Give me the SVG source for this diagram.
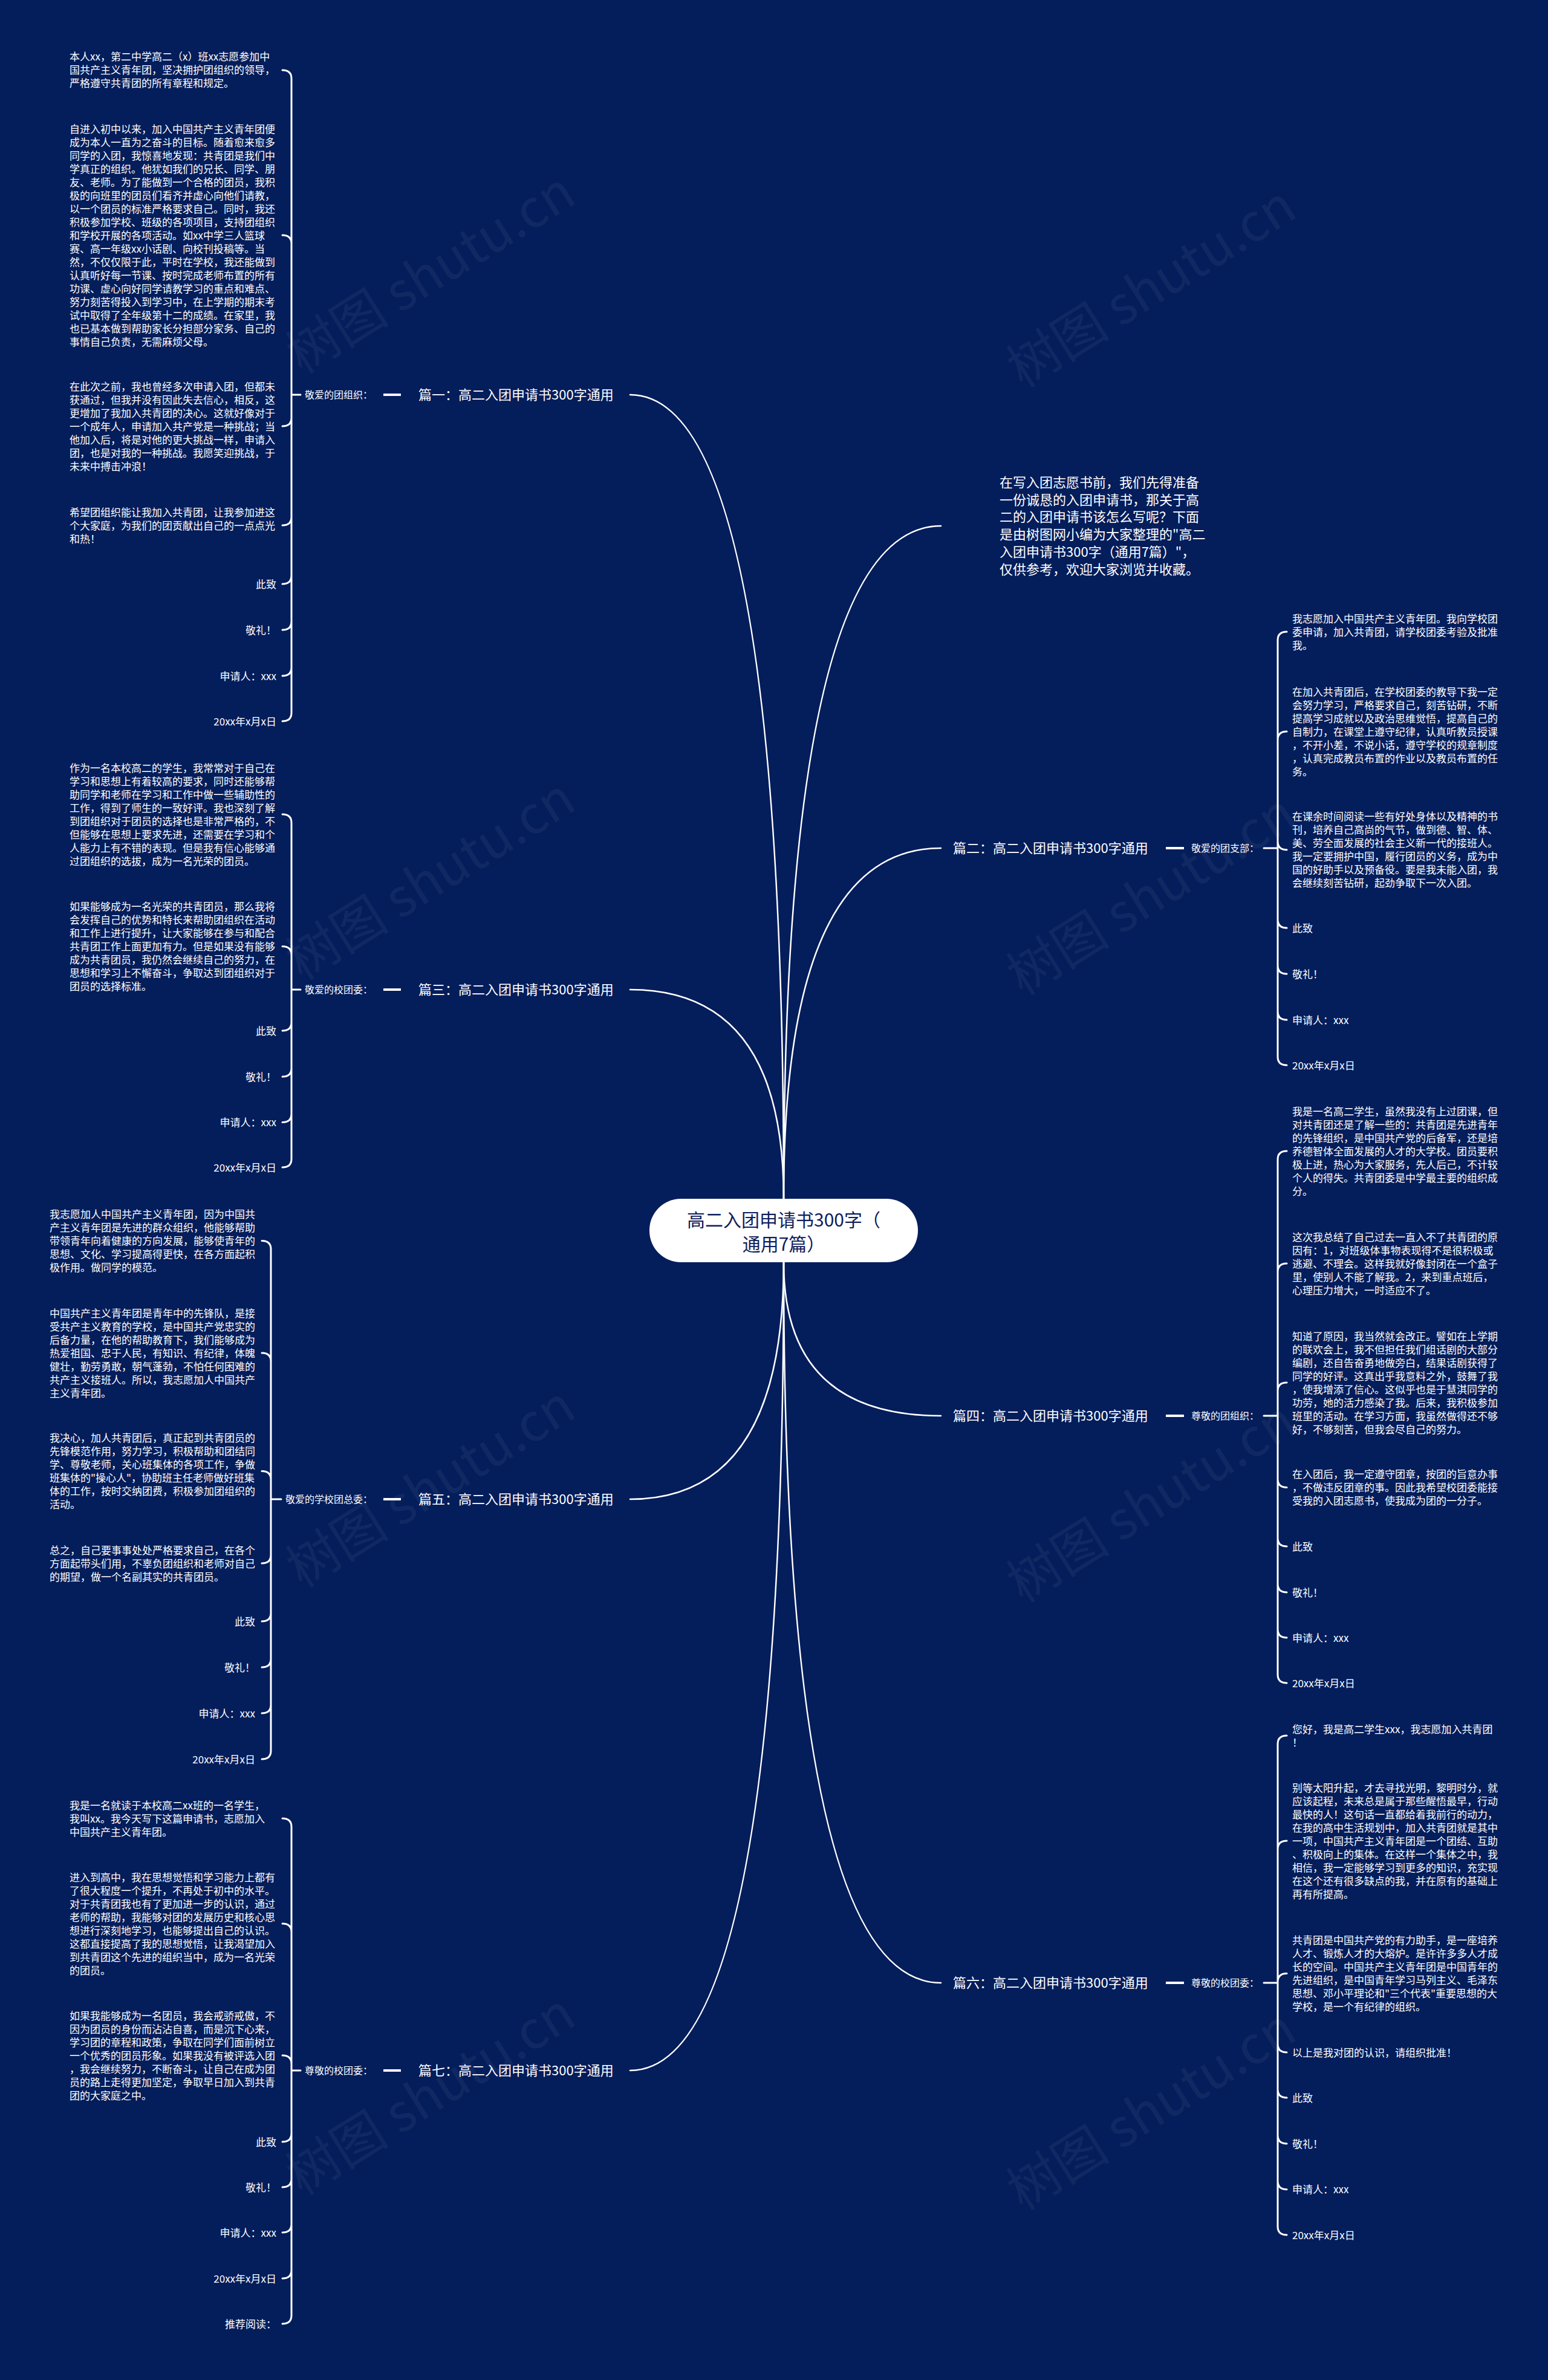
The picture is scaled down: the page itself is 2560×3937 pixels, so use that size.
<svg xmlns="http://www.w3.org/2000/svg" width="2560" height="3937" viewBox="0 0 2560 3937">
<style>
.t{font-family:"Noto Sans CJK SC","Noto Sans",sans-serif;fill:#ffffff}
.leaf{font-size:17px}
.sub{font-size:16px}
.main{font-size:22px}
.intro{font-size:22px}
.ctr{font-family:"Noto Sans CJK SC","Noto Sans",sans-serif;font-size:30px;fill:#10205a}
.ln{fill:none;stroke:#ffffff;stroke-width:2.5;stroke-linecap:round}
.br{fill:none;stroke:#ffffff;stroke-width:3;stroke-linecap:round}
.dash{fill:none;stroke:#ffffff;stroke-width:4}
.wm{font-family:"Noto Sans CJK SC","Noto Sans",sans-serif;font-size:86px;fill:#ffffff;opacity:0.05}
</style>
<rect width="2560" height="3937" fill="#041d5b"/>
<g id="watermarks">
<text class="wm" x="728" y="477" text-anchor="middle" transform="rotate(-32 728 477)">树图 shutu.cn</text>
<text class="wm" x="1920" y="500" text-anchor="middle" transform="rotate(-32 1920 500)">树图 shutu.cn</text>
<text class="wm" x="728" y="1480" text-anchor="middle" transform="rotate(-32 728 1480)">树图 shutu.cn</text>
<text class="wm" x="1920" y="1505" text-anchor="middle" transform="rotate(-32 1920 1505)">树图 shutu.cn</text>
<text class="wm" x="728" y="2485" text-anchor="middle" transform="rotate(-32 728 2485)">树图 shutu.cn</text>
<text class="wm" x="1920" y="2510" text-anchor="middle" transform="rotate(-32 1920 2510)">树图 shutu.cn</text>
<text class="wm" x="728" y="3490" text-anchor="middle" transform="rotate(-32 728 3490)">树图 shutu.cn</text>
<text class="wm" x="1920" y="3515" text-anchor="middle" transform="rotate(-32 1920 3515)">树图 shutu.cn</text>
</g>
<g id="connectors">
<path class="ln" d="M1296 1983 Q1296 653 1042 653"/>
<path class="ln" d="M1296 1983 Q1296 1637 1042 1637"/>
<path class="ln" d="M1296 2088 Q1296 2480 1042 2480"/>
<path class="ln" d="M1296 2088 Q1296 3425 1042 3425"/>
<path class="ln" d="M1296 1983 Q1296 870 1556 870"/>
<path class="ln" d="M1296 1983 Q1296 1403 1556 1403"/>
<path class="ln" d="M1296 2088 Q1296 2342 1556 2342"/>
<path class="ln" d="M1296 2088 Q1296 3280 1556 3280"/>
<path class="dash" d="M634 653H663M634 1637H663M634 2480H663M634 3425H663M1928 1403H1958M1928 2342H1958M1928 3280H1958"/>
<path class="br" d="M467 116Q482 116 482 130L482 1179Q482 1193 467 1193M467 389Q482 389 482 403M467 705Q482 705 482 691M467 869Q482 869 482 855M467 966Q482 966 482 952M467 1042Q482 1042 482 1028M467 1118Q482 1118 482 1104M482 653H497"/>
<path class="br" d="M467 1347Q482 1347 482 1361L482 1917Q482 1931 467 1931M467 1565.5Q482 1565.5 482 1579.5M467 1705Q482 1705 482 1691M467 1781Q482 1781 482 1767M467 1856.5Q482 1856.5 482 1842.5M482 1637H497"/>
<path class="br" d="M433 2052.5Q448 2052.5 448 2066.5L448 2896Q448 2910 433 2910M433 2238Q448 2238 448 2252M433 2433.5Q448 2433.5 448 2447.5M433 2586Q448 2586 448 2572M433 2682Q448 2682 448 2668M433 2758Q448 2758 448 2744M433 2834Q448 2834 448 2820M448 2480H465"/>
<path class="br" d="M467 3008Q482 3008 482 3022L482 3830Q482 3844 467 3844M467 3182Q482 3182 482 3196M467 3400Q482 3400 482 3414M467 3543Q482 3543 482 3529M467 3618Q482 3618 482 3604M467 3693Q482 3693 482 3679M467 3769Q482 3769 482 3755M482 3425H497"/>
<path class="br" d="M2128 1045Q2113 1045 2113 1059L2113 1748Q2113 1762 2128 1762M2128 1210Q2113 1210 2113 1224M2128 1405.7Q2113 1405.7 2113 1391.7M2128 1535Q2113 1535 2113 1521M2128 1611Q2113 1611 2113 1597M2128 1687Q2113 1687 2113 1673M2113 1403H2090"/>
<path class="br" d="M2128 1904Q2113 1904 2113 1918L2113 2770Q2113 2784 2128 2784M2128 2090Q2113 2090 2113 2104M2128 2287Q2113 2287 2113 2301M2128 2460.6Q2113 2460.6 2113 2446.6M2128 2558Q2113 2558 2113 2544M2128 2634Q2113 2634 2113 2620M2128 2709Q2113 2709 2113 2695M2113 2342H2090"/>
<path class="br" d="M2128 2871Q2113 2871 2113 2885L2113 3683Q2113 3697 2128 3697M2128 3045Q2113 3045 2113 3059M2128 3264.5Q2113 3264.5 2113 3278.5M2128 3395Q2113 3395 2113 3381M2128 3470Q2113 3470 2113 3456M2128 3546Q2113 3546 2113 3532M2128 3621.7Q2113 3621.7 2113 3607.7M2113 3280H2090"/>
</g>
<g id="center">
<rect x="1074" y="1983" width="444" height="105" rx="52" fill="#ffffff"/>
<text class="ctr" text-anchor="middle"><tspan x="1296" y="2029">高二入团申请书300字（</tspan><tspan x="1296" y="2069">通用7篇）</tspan></text>
</g>
<g id="intro">
<text class="t intro" x="1653" y="806"><tspan x="1653" dy="0">在写入团志愿书前，我们先得准备</tspan><tspan x="1653" dy="28.7">一份诚恳的入团申请书，那关于高</tspan><tspan x="1653" dy="28.7">二的入团申请书该怎么写呢？下面</tspan><tspan x="1653" dy="28.7">是由树图网小编为大家整理的"高二</tspan><tspan x="1653" dy="28.7">入团申请书300字（通用7篇）"，</tspan><tspan x="1653" dy="28.7">仅供参考，欢迎大家浏览并收藏。</tspan></text>
</g>
<g id="p1">
<text class="t main" x="692" y="661">篇一：高二入团申请书300字通用</text>
<text class="t sub" x="616" y="659" text-anchor="end">敬爱的团组织：</text>
<text class="t leaf" x="115" y="100.3"><tspan x="115" dy="0">本人xx，第二中学高二（x）班xx志愿参加中</tspan><tspan x="115" dy="22">国共产主义青年团，坚决拥护团组织的领导，</tspan><tspan x="115" dy="22">严格遵守共青团的所有章程和规定。</tspan></text>
<text class="t leaf" x="115" y="219.5"><tspan x="115" dy="0">自进入初中以来，加入中国共产主义青年团便</tspan><tspan x="115" dy="22">成为本人一直为之奋斗的目标。随着愈来愈多</tspan><tspan x="115" dy="22">同学的入团，我惊喜地发现：共青团是我们中</tspan><tspan x="115" dy="22">学真正的组织。他犹如我们的兄长、同学、朋</tspan><tspan x="115" dy="22">友、老师。为了能做到一个合格的团员，我积</tspan><tspan x="115" dy="22">极的向班里的团员们看齐并虚心向他们请教，</tspan><tspan x="115" dy="22">以一个团员的标准严格要求自己。同时，我还</tspan><tspan x="115" dy="22">积极参加学校、班级的各项项目，支持团组织</tspan><tspan x="115" dy="22">和学校开展的各项活动。如xx中学三人篮球</tspan><tspan x="115" dy="22">赛、高一年级xx小话剧、向校刊投稿等。当</tspan><tspan x="115" dy="22">然，不仅仅限于此，平时在学校，我还能做到</tspan><tspan x="115" dy="22">认真听好每一节课、按时完成老师布置的所有</tspan><tspan x="115" dy="22">功课、虚心向好同学请教学习的重点和难点、</tspan><tspan x="115" dy="22">努力刻苦得投入到学习中，在上学期的期末考</tspan><tspan x="115" dy="22">试中取得了全年级第十二的成绩。在家里，我</tspan><tspan x="115" dy="22">也已基本做到帮助家长分担部分家务、自己的</tspan><tspan x="115" dy="22">事情自己负责，无需麻烦父母。</tspan></text>
<text class="t leaf" x="115" y="645.5"><tspan x="115" dy="0">在此次之前，我也曾经多次申请入团，但都未</tspan><tspan x="115" dy="22">获通过，但我并没有因此失去信心，相反，这</tspan><tspan x="115" dy="22">更增加了我加入共青团的决心。这就好像对于</tspan><tspan x="115" dy="22">一个成年人，申请加入共产党是一种挑战；当</tspan><tspan x="115" dy="22">他加入后，将是对他的更大挑战一样，申请入</tspan><tspan x="115" dy="22">团，也是对我的一种挑战。我愿笑迎挑战，于</tspan><tspan x="115" dy="22">未来中搏击冲浪！</tspan></text>
<text class="t leaf" x="115" y="853.5"><tspan x="115" dy="0">希望团组织能让我加入共青团，让我参加进这</tspan><tspan x="115" dy="22">个大家庭，为我们的团贡献出自己的一点点光</tspan><tspan x="115" dy="22">和热！</tspan></text>
<text class="t leaf" x="457" y="972.5" text-anchor="end">此致</text>
<text class="t leaf" x="457" y="1048.5" text-anchor="end">敬礼！</text>
<text class="t leaf" x="457" y="1124.5" text-anchor="end">申请人：xxx</text>
<text class="t leaf" x="457" y="1199.5" text-anchor="end">20xx年x月x日</text>
</g>
<g id="p3">
<text class="t main" x="692" y="1645">篇三：高二入团申请书300字通用</text>
<text class="t sub" x="616" y="1643" text-anchor="end">敬爱的校团委：</text>
<text class="t leaf" x="115" y="1276.5"><tspan x="115" dy="0">作为一名本校高二的学生，我常常对于自己在</tspan><tspan x="115" dy="22">学习和思想上有着较高的要求，同时还能够帮</tspan><tspan x="115" dy="22">助同学和老师在学习和工作中做一些辅助性的</tspan><tspan x="115" dy="22">工作，得到了师生的一致好评。我也深刻了解</tspan><tspan x="115" dy="22">到团组织对于团员的选择也是非常严格的，不</tspan><tspan x="115" dy="22">但能够在思想上要求先进，还需要在学习和个</tspan><tspan x="115" dy="22">人能力上有不错的表现。但是我有信心能够通</tspan><tspan x="115" dy="22">过团组织的选拔，成为一名光荣的团员。</tspan></text>
<text class="t leaf" x="115" y="1506"><tspan x="115" dy="0">如果能够成为一名光荣的共青团员，那么我将</tspan><tspan x="115" dy="22">会发挥自己的优势和特长来帮助团组织在活动</tspan><tspan x="115" dy="22">和工作上进行提升，让大家能够在参与和配合</tspan><tspan x="115" dy="22">共青团工作上面更加有力。但是如果没有能够</tspan><tspan x="115" dy="22">成为共青团员，我仍然会继续自己的努力，在</tspan><tspan x="115" dy="22">思想和学习上不懈奋斗，争取达到团组织对于</tspan><tspan x="115" dy="22">团员的选择标准。</tspan></text>
<text class="t leaf" x="457" y="1711.5" text-anchor="end">此致</text>
<text class="t leaf" x="457" y="1787.5" text-anchor="end">敬礼！</text>
<text class="t leaf" x="457" y="1863" text-anchor="end">申请人：xxx</text>
<text class="t leaf" x="457" y="1937.5" text-anchor="end">20xx年x月x日</text>
</g>
<g id="p5">
<text class="t main" x="692" y="2488">篇五：高二入团申请书300字通用</text>
<text class="t sub" x="616" y="2486" text-anchor="end">敬爱的学校团总委：</text>
<text class="t leaf" x="82" y="2015"><tspan x="82" dy="0">我志愿加人中国共产主义青年团，因为中国共</tspan><tspan x="82" dy="22">产主义青年团是先进的群众组织，他能够帮助</tspan><tspan x="82" dy="22">带领青年向着健康的方向发展，能够使青年的</tspan><tspan x="82" dy="22">思想、文化、学习提高得更快，在各方面起积</tspan><tspan x="82" dy="22">极作用。做同学的模范。</tspan></text>
<text class="t leaf" x="82" y="2178.5"><tspan x="82" dy="0">中国共产主义青年团是青年中的先锋队，是接</tspan><tspan x="82" dy="22">受共产主义教育的学校，是中国共产党忠实的</tspan><tspan x="82" dy="22">后备力量，在他的帮助教育下，我们能够成为</tspan><tspan x="82" dy="22">热爱祖国、忠于人民，有知识、有纪律，体魄</tspan><tspan x="82" dy="22">健壮，勤劳勇敢，朝气蓬勃，不怕任何困难的</tspan><tspan x="82" dy="22">共产主义接班人。所以，我志愿加人中国共产</tspan><tspan x="82" dy="22">主义青年团。</tspan></text>
<text class="t leaf" x="82" y="2385"><tspan x="82" dy="0">我决心，加人共青团后，真正起到共青团员的</tspan><tspan x="82" dy="22">先锋模范作用，努力学习，积极帮助和团结同</tspan><tspan x="82" dy="22">学、尊敬老师，关心班集体的各项工作，争做</tspan><tspan x="82" dy="22">班集体的"操心人"，协助班主任老师做好班集</tspan><tspan x="82" dy="22">体的工作，按时交纳团费，积极参加团组织的</tspan><tspan x="82" dy="22">活动。</tspan></text>
<text class="t leaf" x="82" y="2570.5"><tspan x="82" dy="0">总之，自己要事事处处严格要求自己，在各个</tspan><tspan x="82" dy="22">方面起带头们用，不辜负团组织和老师对自己</tspan><tspan x="82" dy="22">的期望，做一个名副其实的共青团员。</tspan></text>
<text class="t leaf" x="422" y="2688.5" text-anchor="end">此致</text>
<text class="t leaf" x="422" y="2764.5" text-anchor="end">敬礼！</text>
<text class="t leaf" x="422" y="2840.5" text-anchor="end">申请人：xxx</text>
<text class="t leaf" x="422" y="2916.5" text-anchor="end">20xx年x月x日</text>
</g>
<g id="p7">
<text class="t main" x="692" y="3433">篇七：高二入团申请书300字通用</text>
<text class="t sub" x="616" y="3431" text-anchor="end">尊敬的校团委：</text>
<text class="t leaf" x="115" y="2992.5"><tspan x="115" dy="0">我是一名就读于本校高二xx班的一名学生，</tspan><tspan x="115" dy="22">我叫xx。我今天写下这篇申请书，志愿加入</tspan><tspan x="115" dy="22">中国共产主义青年团。</tspan></text>
<text class="t leaf" x="115" y="3111.5"><tspan x="115" dy="0">进入到高中，我在思想觉悟和学习能力上都有</tspan><tspan x="115" dy="22">了很大程度一个提升，不再处于初中的水平。</tspan><tspan x="115" dy="22">对于共青团我也有了更加进一步的认识，通过</tspan><tspan x="115" dy="22">老师的帮助，我能够对团的发展历史和核心思</tspan><tspan x="115" dy="22">想进行深刻地学习，也能够提出自己的认识。</tspan><tspan x="115" dy="22">这都直接提高了我的思想觉悟，让我渴望加入</tspan><tspan x="115" dy="22">到共青团这个先进的组织当中，成为一名光荣</tspan><tspan x="115" dy="22">的团员。</tspan></text>
<text class="t leaf" x="115" y="3340.5"><tspan x="115" dy="0">如果我能够成为一名团员，我会戒骄戒傲，不</tspan><tspan x="115" dy="22">因为团员的身份而沾沾自喜，而是沉下心来，</tspan><tspan x="115" dy="22">学习团的章程和政策，争取在同学们面前树立</tspan><tspan x="115" dy="22">一个优秀的团员形象。如果我没有被评选入团</tspan><tspan x="115" dy="22">，我会继续努力，不断奋斗，让自己在成为团</tspan><tspan x="115" dy="22">员的路上走得更加坚定，争取早日加入到共青</tspan><tspan x="115" dy="22">团的大家庭之中。</tspan></text>
<text class="t leaf" x="457" y="3549.5" text-anchor="end">此致</text>
<text class="t leaf" x="457" y="3624.5" text-anchor="end">敬礼！</text>
<text class="t leaf" x="457" y="3699.5" text-anchor="end">申请人：xxx</text>
<text class="t leaf" x="457" y="3775.5" text-anchor="end">20xx年x月x日</text>
<text class="t leaf" x="457" y="3850.5" text-anchor="end">推荐阅读：</text>
</g>
<g id="p2">
<text class="t main" x="1576" y="1411">篇二：高二入团申请书300字通用</text>
<text class="t sub" x="1970" y="1409">敬爱的团支部：</text>
<text class="t leaf" x="2137" y="1030"><tspan x="2137" dy="0">我志愿加入中国共产主义青年团。我向学校团</tspan><tspan x="2137" dy="22">委申请，加入共青团，请学校团委考验及批准</tspan><tspan x="2137" dy="22">我。</tspan></text>
<text class="t leaf" x="2137" y="1150.5"><tspan x="2137" dy="0">在加入共青团后，在学校团委的教导下我一定</tspan><tspan x="2137" dy="22">会努力学习，严格要求自己，刻苦钻研，不断</tspan><tspan x="2137" dy="22">提高学习成就以及政治思维觉悟，提高自己的</tspan><tspan x="2137" dy="22">自制力，在课堂上遵守纪律，认真听教员授课</tspan><tspan x="2137" dy="22">，不开小差，不说小话，遵守学校的规章制度</tspan><tspan x="2137" dy="22">，认真完成教员布置的作业以及教员布置的任</tspan><tspan x="2137" dy="22">务。</tspan></text>
<text class="t leaf" x="2137" y="1357"><tspan x="2137" dy="0">在课余时间阅读一些有好处身体以及精神的书</tspan><tspan x="2137" dy="22">刊，培养自己高尚的气节，做到德、智、体、</tspan><tspan x="2137" dy="22">美、劳全面发展的社会主义新一代的接班人。</tspan><tspan x="2137" dy="22">我一定要拥护中国，履行团员的义务，成为中</tspan><tspan x="2137" dy="22">国的好助手以及预备役。要是我未能入团，我</tspan><tspan x="2137" dy="22">会继续刻苦钻研，起劲争取下一次入团。</tspan></text>
<text class="t leaf" x="2137" y="1541.5">此致</text>
<text class="t leaf" x="2137" y="1617.5">敬礼！</text>
<text class="t leaf" x="2137" y="1693.5">申请人：xxx</text>
<text class="t leaf" x="2137" y="1768.5">20xx年x月x日</text>
</g>
<g id="p4">
<text class="t main" x="1576" y="2350">篇四：高二入团申请书300字通用</text>
<text class="t sub" x="1970" y="2348">尊敬的团组织：</text>
<text class="t leaf" x="2137" y="1845"><tspan x="2137" dy="0">我是一名高二学生，虽然我没有上过团课，但</tspan><tspan x="2137" dy="22">对共青团还是了解一些的：共青团是先进青年</tspan><tspan x="2137" dy="22">的先锋组织，是中国共产党的后备军，还是培</tspan><tspan x="2137" dy="22">养德智体全面发展的人才的大学校。团员要积</tspan><tspan x="2137" dy="22">极上进，热心为大家服务，先人后己，不计较</tspan><tspan x="2137" dy="22">个人的得失。共青团委是中学最主要的组织成</tspan><tspan x="2137" dy="22">分。</tspan></text>
<text class="t leaf" x="2137" y="2052.5"><tspan x="2137" dy="0">这次我总结了自己过去一直入不了共青团的原</tspan><tspan x="2137" dy="22">因有：1，对班级体事物表现得不是很积极或</tspan><tspan x="2137" dy="22">逃避、不理会。这样我就好像封闭在一个盒子</tspan><tspan x="2137" dy="22">里，使别人不能了解我。2，来到重点班后，</tspan><tspan x="2137" dy="22">心理压力增大，一时适应不了。</tspan></text>
<text class="t leaf" x="2137" y="2216.5"><tspan x="2137" dy="0">知道了原因，我当然就会改正。譬如在上学期</tspan><tspan x="2137" dy="22">的联欢会上，我不但担任我们组话剧的大部分</tspan><tspan x="2137" dy="22">编剧，还自告奋勇地做旁白，结果话剧获得了</tspan><tspan x="2137" dy="22">同学的好评。这真出乎我意料之外，鼓舞了我</tspan><tspan x="2137" dy="22">，使我增添了信心。这似乎也是于慧淇同学的</tspan><tspan x="2137" dy="22">功劳，她的活力感染了我。后来，我积极参加</tspan><tspan x="2137" dy="22">班里的活动。在学习方面，我虽然做得还不够</tspan><tspan x="2137" dy="22">好，不够刻苦，但我会尽自己的努力。</tspan></text>
<text class="t leaf" x="2137" y="2445"><tspan x="2137" dy="0">在入团后，我一定遵守团章，按团的旨意办事</tspan><tspan x="2137" dy="22">，不做违反团章的事。因此我希望校团委能接</tspan><tspan x="2137" dy="22">受我的入团志愿书，使我成为团的一分子。</tspan></text>
<text class="t leaf" x="2137" y="2564.5">此致</text>
<text class="t leaf" x="2137" y="2640.5">敬礼！</text>
<text class="t leaf" x="2137" y="2715.5">申请人：xxx</text>
<text class="t leaf" x="2137" y="2790.5">20xx年x月x日</text>
</g>
<g id="p6">
<text class="t main" x="1576" y="3288">篇六：高二入团申请书300字通用</text>
<text class="t sub" x="1970" y="3286">尊敬的校团委：</text>
<text class="t leaf" x="2137" y="2866.5"><tspan x="2137" dy="0">您好，我是高二学生xxx，我志愿加入共青团</tspan><tspan x="2137" dy="22">！</tspan></text>
<text class="t leaf" x="2137" y="2963.5"><tspan x="2137" dy="0">别等太阳升起，才去寻找光明，黎明时分，就</tspan><tspan x="2137" dy="22">应该起程，未来总是属于那些醒悟最早，行动</tspan><tspan x="2137" dy="22">最快的人！这句话一直都给着我前行的动力，</tspan><tspan x="2137" dy="22">在我的高中生活规划中，加入共青团就是其中</tspan><tspan x="2137" dy="22">一项，中国共产主义青年团是一个团结、互助</tspan><tspan x="2137" dy="22">、积极向上的集体。在这样一个集体之中，我</tspan><tspan x="2137" dy="22">相信，我一定能够学习到更多的知识，充实现</tspan><tspan x="2137" dy="22">在这个还有很多缺点的我，并在原有的基础上</tspan><tspan x="2137" dy="22">再有所提高。</tspan></text>
<text class="t leaf" x="2137" y="3216"><tspan x="2137" dy="0">共青团是中国共产党的有力助手，是一座培养</tspan><tspan x="2137" dy="22">人才、锻炼人才的大熔炉。是许许多多人才成</tspan><tspan x="2137" dy="22">长的空间。中国共产主义青年团是中国青年的</tspan><tspan x="2137" dy="22">先进组织，是中国青年学习马列主义、毛泽东</tspan><tspan x="2137" dy="22">思想、邓小平理论和"三个代表"重要思想的大</tspan><tspan x="2137" dy="22">学校，是一个有纪律的组织。</tspan></text>
<text class="t leaf" x="2137" y="3401.5">以上是我对团的认识，请组织批准！</text>
<text class="t leaf" x="2137" y="3476.5">此致</text>
<text class="t leaf" x="2137" y="3552.5">敬礼！</text>
<text class="t leaf" x="2137" y="3628">申请人：xxx</text>
<text class="t leaf" x="2137" y="3703.5">20xx年x月x日</text>
</g>
</svg>
